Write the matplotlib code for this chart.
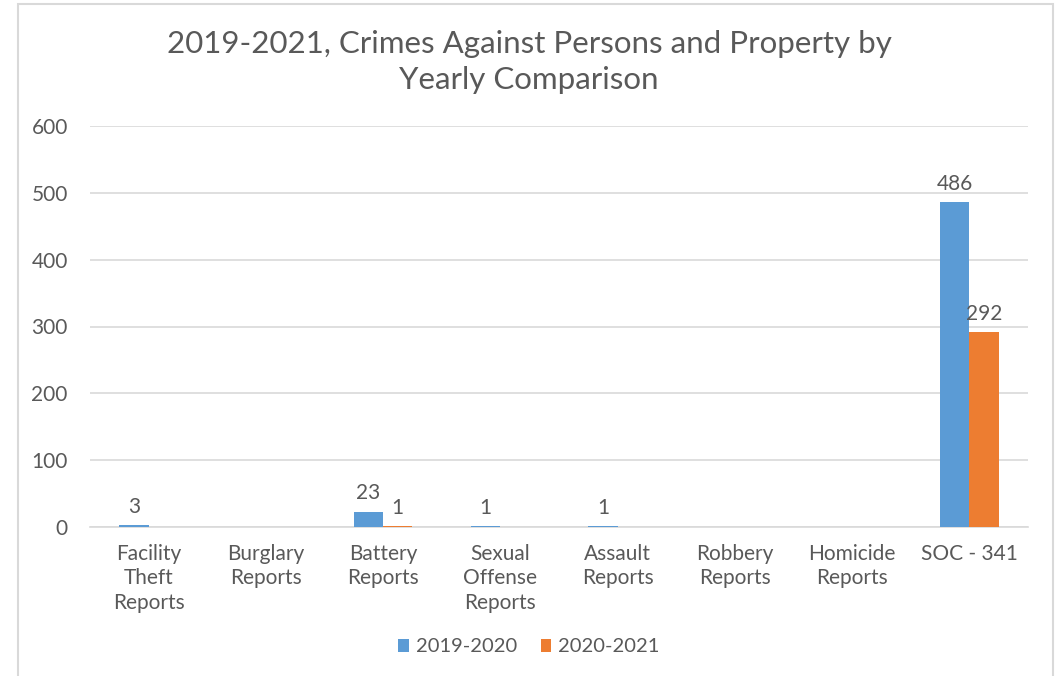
import numpy as np
import matplotlib.pyplot as plt
from matplotlib.patches import Rectangle

# ---------- Data ----------
categories = ['Facility\nTheft\nReports', 'Burglary\nReports', 'Battery\nReports',
              'Sexual\nOffense\nReports', 'Assault\nReports', 'Robbery\nReports',
              'Homicide\nReports', 'SOC - 341']
series_names = ['2019-2020', '2020-2021']
y_2019 = [3, np.nan, 23, 1, 1, np.nan, np.nan, 486]
y_2020 = [np.nan, np.nan, 1, np.nan, np.nan, np.nan, np.nan, 292]
colors = ['#5b9bd5', '#ed7d31']

plt.rcParams['font.family'] = ['Lato', 'DejaVu Sans']
text_color = '#595959'

# ---------- Plot ----------
fig = plt.figure(figsize=(10.58, 6.76), dpi=100)
ax = fig.add_axes([90 / 1058, 1 - 527 / 676, 938 / 1058, 401 / 676])

x = np.arange(len(categories))
w = 0.25
for i, (vals, name) in enumerate(zip([y_2019, y_2020], series_names)):
    bars = ax.bar(x + (i - 0.5) * w, np.nan_to_num(vals), w, color=colors[i],
                  label=name, zorder=3)
    labels = ['' if np.isnan(v) else f'{int(v)}' for v in vals]
    ax.bar_label(bars, labels=labels, padding=6, fontsize=15, color=text_color)

ax.set_xlim(-0.5, len(categories) - 0.5)
ax.set_ylim(0, 600)
ax.set_yticks(range(0, 601, 100))
ax.set_xticks(x)
ax.set_xticklabels(categories, fontsize=15, color=text_color, linespacing=1.3)
ax.tick_params(axis='y', labelsize=15, labelcolor=text_color, length=0, pad=16)
ax.tick_params(axis='x', length=0, pad=12)
ax.grid(axis='y', color='#d9d9d9', linewidth=1.2, zorder=0)
for side in ['top', 'right', 'left']:
    ax.spines[side].set_visible(False)
ax.spines['bottom'].set_color('#d9d9d9')
ax.spines['bottom'].set_linewidth(1.2)

fig.text(0.5, 1 - 62 / 676, '2019-2021, Crimes Against Persons and Property by\nYearly Comparison',
         ha='center', va='center', fontsize=22.5, color=text_color, linespacing=1.35)

ax.legend(loc='center', bbox_to_anchor=(0.5, 1 - 647 / 676), bbox_transform=fig.transFigure,
          ncol=2, frameon=False, fontsize=14.5, labelcolor=text_color,
          handlelength=0.5, handleheight=0.6, handletextpad=0.35, columnspacing=1.2)

# chart border
fig.patches.append(Rectangle((18 / 1058, -0.01), 1035 / 1058, 1.01 - 4 / 676,
                             transform=fig.transFigure, fill=False,
                             edgecolor='#d9d9d9', linewidth=1.5))

fig.savefig('out.png', dpi=100)
